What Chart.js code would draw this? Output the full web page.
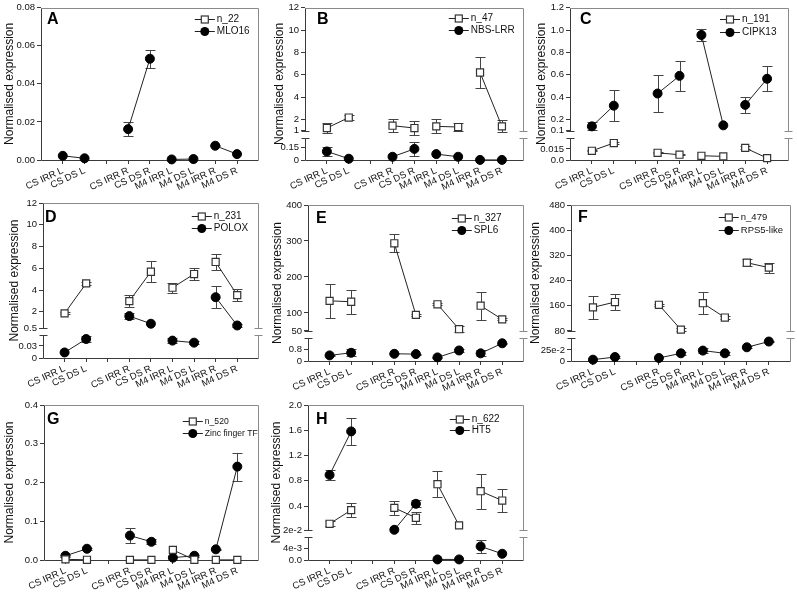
<!DOCTYPE html>
<html><head><meta charset="utf-8">
<script src="https://cdn.jsdelivr.net/npm/chart.js@4.4.0/dist/chart.umd.min.js"></script>
<style>
html,body{margin:0;padding:0;background:#fff;}
#wrap{position:relative;width:797px;height:592px;overflow:hidden;background:#fff;}
canvas{position:absolute;}
</style></head><body><div id="wrap"></div>
<script>
// ---------- data ----------
const categories = ['CS IRR L','CS DS L','CS IRR R','CS DS R','M4 IRR L','M4 DS L','M4 IRR R','M4 DS R'];
const yTitle = 'Normalised expression';

const A_n22 = [null,null,null,null,null,null,null,null];
const A_n22_err = [0,0,0,0,0,0,0,0];
const A_MLO16 = [0.0022,0.0009,0.0162,0.0532,0.0003,0.0005,0.0075,0.0031];
const A_MLO16_err = [0,0,0.0038,0.0047,0,0,0.0004,0];
const A_ticks = [0,0.02,0.04,0.06,0.08];
const A_tickLabels = ['0.00','0.02','0.04','0.06','0.08'];

const B_n47 = [1.23,2.17,1.44,1.23,1.38,1.32,6.2,1.38];
const B_n47_err = [0.44,0.24,0.6,0.65,0.62,0.35,1.36,0.57];
const B_NBS = [0.10,0.015,0.038,0.13,0.069,0.038,0.001,0.001];
const B_NBS_err = [0.05,0,0,0.085,0,0,0,0];
const B_ticks = [0,0.15,1,2,4,6,8,10,12];
const B_tickLabels = ['0','0.15','1','2','4','6','8','10','12'];

const C_n191 = [0.0124,0.0229,0.0097,0.0071,0.0057,0.0049,0.0163,0.0026];
const C_n191_err = [0.0008,0.0008,0.0008,0.0008,0,0,0.002,0];
const C_CIPK13 = [0.138,0.323,0.432,0.59,0.956,0.147,0.33,0.564];
const C_CIPK13_err = [0.036,0.14,0.162,0.135,0.05,0,0.07,0.11];
const C_ticks = [0,0.015,0.1,0.2,0.4,0.6,0.8,1.0,1.2];
const C_tickLabels = ['0.0','0.015','0.1','0.2','0.4','0.6','0.8','1.0','1.2'];

const D_n231 = [1.85,4.61,2.98,5.68,4.21,5.47,6.58,3.53];
const D_n231_err = [0.1,0.15,0.58,0.96,0.45,0.55,0.75,0.58];
const D_POLOX = [0.0137,0.047,1.6,0.9,0.043,0.038,3.34,0.74];
const D_POLOX_err = [0,0.007,0.3,0,0.007,0.003,0.99,0.18];
const D_ticks = [0,0.03,0.5,2,4,6,8,10,12];
const D_tickLabels = ['0','0.03','0.5','2','4','6','8','10','12'];

const E_n327 = [133.6,131,293.5,94.4,124,54.7,120,82];
const E_n327_err = [47.5,33,25.5,2,3,10,38.5,3];
const E_SPL6 = [0.39,0.57,0.50,0.48,0.25,0.73,0.53,1.23];
const E_SPL6_err = [0.05,0.23,0.04,0.03,0.03,0.08,0.2,0.05];
const E_ticks = [0,0.8,50,100,200,300,400];
const E_tickLabels = ['0','0.8','50','100','200','300','400'];

const F_n479 = [154.7,171.7,163,84,168,122.4,296.7,281];
const F_n479_err = [37,26,4,5,35,5,12,16];
const F_RPS5 = [0.03,0.09,0.068,0.174,0.235,0.174,0.31,0.44];
const F_RPS5_err = [0,0.02,0,0.04,0.05,0.04,0.02,0.02];
const F_ticks = [0,0.25,80,160,240,320,400,480];
const F_tickLabels = ['0','25e-2','80','160','240','320','400','480'];

const G_n520 = [0.0017,0.0005,0.0003,0.0003,0.026,0.0005,0.0003,0.0003];
const G_n520_err = [0,0,0,0,0,0,0,0];
const G_Zinc = [0.011,0.029,0.063,0.047,0.006,0.011,0.0275,0.241];
const G_Zinc_err = [0.002,0.002,0.0185,0.006,0,0.002,0.002,0.036];
const G_ticks = [0,0.1,0.2,0.3,0.4];
const G_tickLabels = ['0.0','0.1','0.2','0.3','0.4'];

const H_n622 = [0.12,0.336,0.372,0.215,0.746,0.094,0.635,0.488];
const H_n622_err = [0.04,0.105,0.108,0.097,0.208,0,0.28,0.18];
const H_HT5 = [0.893,1.582,0.025,0.436,0.0002,0.0002,0.0048,0.0022];
const H_HT5_err = [0.079,0.22,0,0.055,0,0,0.0024,0];
const H_ticks = [0,0.004,0.02,0.4,0.8,1.2,1.6,2.0];
const H_tickLabels = ['0.0','4e-3','2e-2','0.4','0.8','1.2','1.6','2.0'];

// ---------- layout / style ----------
const FONT = "'Liberation Sans', Arial, Helvetica, sans-serif";
const LOW_FRAC = 0.146, GAP_FRAC = 0.047;

const panels = [
 {id:'A', canvas:[0,0,265,195],   area:[41,5,260,160],  s1:['n_22',A_n22,A_n22_err], s2:['MLO16',A_MLO16,A_MLO16_err], max:0.08, ticks:A_ticks, labels:A_tickLabels, brk:null, legX:42, legY:[11,23], legF:10, letter:[6,5], tpad:4},
 {id:'B', canvas:[265,0,265,195], area:[305,5,526,160], s1:['n_47',B_n47,B_n47_err], s2:['NBS-LRR',B_NBS,B_NBS_err], max:12, ticks:B_ticks, labels:B_tickLabels, brk:{lowMax:0.26, upMin:1}, legX:53, legY:[10,22], legF:10, letter:[12,5], tpad:9},
 {id:'C', canvas:[530,0,267,195], area:[570,5,789,160], s1:['n_191',C_n191,C_n191_err], s2:['CIPK13',C_CIPK13,C_CIPK13_err], max:1.2, ticks:C_ticks, labels:C_tickLabels, brk:{lowMax:0.03, upMin:0.1}, legX:47, legY:[11,24], legF:10, letter:[10,5], tpad:6},
 {id:'D', canvas:[0,195,265,197], area:[43,203,261,358], s1:['n_231',D_n231,D_n231_err], s2:['POLOX',D_POLOX,D_POLOX_err], max:12, ticks:D_ticks, labels:D_tickLabels, brk:{lowMax:0.056, upMin:0.5}, legX:45, legY:[13,25], legF:10, letter:[2,7], tpad:9},
 {id:'E', canvas:[265,195,265,197], area:[308,205,528,361], s1:['n_327',E_n327,E_n327_err], s2:['SPL6',E_SPL6,E_SPL6_err], max:400, ticks:E_ticks, labels:E_tickLabels, brk:{lowMax:1.58, upMin:50}, legX:50, legY:[13,25], legF:10, letter:[8,6], tpad:7},
 {id:'F', canvas:[530,195,267,197], area:[571,205,792,361], s1:['n_479',F_n479,F_n479_err], s2:['RPS5-like',F_RPS5,F_RPS5_err], max:480, ticks:F_ticks, labels:F_tickLabels, brk:{lowMax:0.515, upMin:80}, legX:50, legY:[12,25], legF:9.5, letter:[7,5], tpad:0},
 {id:'G', canvas:[0,392,265,200], area:[44,405,261,560], s1:['n_520',G_n520,G_n520_err], s2:['Zinc finger TF',G_Zinc,G_Zinc_err], max:0.4, ticks:G_ticks, labels:G_tickLabels, brk:null, legX:54, legY:[16,28], legF:8.6, letter:[3,7], tpad:4},
 {id:'H', canvas:[265,392,265,200], area:[308,405,529,560], s1:['n_622',H_n622,H_n622_err], s2:['HT5',H_HT5,H_HT5_err], max:2.0, ticks:H_ticks, labels:H_tickLabels, brk:{lowMax:0.008, upMin:0.02}, legX:52, legY:[14,25], legF:10, letter:[8,7], tpad:6}
];

const slotLabels = ['', categories[0], categories[1], '', categories[2], categories[3], categories[4], categories[5], categories[6], categories[7], ''];
function toSlots(a){ return [null,a[0],a[1],null,a[2],a[3],a[4],a[5],a[6],a[7],null]; }

// ---------- broken value scale ----------
class BrokenScale extends Chart.LinearScale {
  buildTicks(){ return (this.chart.canvas._ticks || []).map(v => ({value:v})); }
  _seg(){
    const b = this.chart.canvas._brk, H = this.bottom - this.top;
    const lowH = H*LOW_FRAC, gapH = H*GAP_FRAC;
    return {b, lowH, gapH, lowTop:this.bottom-lowH, upBot:this.bottom-lowH-gapH};
  }
  getPixelForValue(v){
    if (v === null || v === undefined || isNaN(v)) return NaN;
    const b = this.chart.canvas._brk;
    if (!b) return super.getPixelForValue(v);
    const s = this._seg();
    if (v <= b.lowMax) return this.bottom - (v - this.min)/(b.lowMax - this.min)*s.lowH;
    if (v >= b.upMin) return s.upBot - (v - b.upMin)/(this.max - b.upMin)*(s.upBot - this.top);
    return s.lowTop - (v - b.lowMax)/(b.upMin - b.lowMax)*s.gapH;
  }
  getValueForPixel(p){
    const b = this.chart.canvas._brk;
    if (!b) return super.getValueForPixel(p);
    const s = this._seg();
    if (p >= s.lowTop) return this.min + (this.bottom - p)/s.lowH*(b.lowMax - this.min);
    if (p <= s.upBot) return b.upMin + (s.upBot - p)/(s.upBot - this.top)*(this.max - b.upMin);
    return b.lowMax + (s.lowTop - p)/s.gapH*(b.upMin - b.lowMax);
  }
}
BrokenScale.id = 'broken';
BrokenScale.defaults = Chart.LinearScale.defaults;
Chart.register(BrokenScale);

// ---------- plugins ----------
const AXIS_C = '#3a3a3a', FRAME_C = '#8a8a8a';
function seg(ctx,x1,y1,x2,y2,c){ ctx.strokeStyle=c; ctx.beginPath(); ctx.moveTo(x1,y1); ctx.lineTo(x2,y2); ctx.stroke(); }

const framePlugin = {
  id:'frame',
  beforeDatasetsDraw(chart){
    const ctx = chart.ctx, a = chart.chartArea, ys = chart.scales.y, b = chart.canvas._brk;
    ctx.save(); ctx.lineWidth = 1;
    const L = Math.round(a.left)+0.5, R = Math.round(a.right)-0.5, T = Math.round(a.top)+0.5, B = Math.round(a.bottom)+0.5;
    seg(ctx,L,T,R,T,FRAME_C);
    seg(ctx,L,B,R,B,AXIS_C);
    if (b) {
      const lowTop = Math.round(ys.getPixelForValue(b.lowMax))+0.5, upBot = Math.round(ys.getPixelForValue(b.upMin))+0.5;
      seg(ctx,L,B,L,lowTop,AXIS_C); seg(ctx,L,upBot,L,T,AXIS_C);
      seg(ctx,R,B,R,lowTop,FRAME_C); seg(ctx,R,upBot,R,T,FRAME_C);
      [lowTop,upBot].forEach(yy => { seg(ctx,L-4,yy,L+4,yy,AXIS_C); seg(ctx,R-4,yy,R+4,yy,FRAME_C); });
    } else {
      seg(ctx,L,B,L,T,AXIS_C); seg(ctx,R,B,R,T,FRAME_C);
    }
    ctx.restore();
  }
};

const errPlugin = {
  id:'errbars',
  beforeDatasetsDraw(chart){
    const ctx = chart.ctx, ys = chart.scales.y;
    ctx.save(); ctx.lineWidth = 1;
    chart.data.datasets.forEach((ds, di) => {
      const meta = chart.getDatasetMeta(di);
      ds.data.forEach((v, i) => {
        const e = ds.errors ? ds.errors[i] : 0;
        if (v === null || !e) return;
        const x = Math.round(meta.data[i].x)+0.5;
        const y1 = Math.round(ys.getPixelForValue(v + e))+0.5;
        const y2 = Math.round(ys.getPixelForValue(Math.max(v - e, ys.min)))+0.5;
        seg(ctx,x,y1,x,y2,'#444');
        seg(ctx,x-5,y1,x+5,y1,'#444');
        seg(ctx,x-5,y2,x+5,y2,'#444');
      });
    });
    ctx.restore();
  }
};

const decoPlugin = {
  id:'deco',
  afterDatasetsDraw(chart){
    const p = chart.canvas._p, a = chart.chartArea, ctx = chart.ctx;
    ctx.save();
    ctx.fillStyle = '#000'; ctx.textAlign = 'left'; ctx.textBaseline = 'alphabetic';
    ctx.font = 'bold 16px ' + FONT;
    ctx.fillText(p.id, a.left + p.letter[0], a.top + p.letter[1] + 11.5);
    ctx.font = p.legF + 'px ' + FONT; ctx.textBaseline = 'middle';
    chart.data.datasets.forEach((ds, i) => {
      const tx = a.right - p.legX, ty = Math.round(a.top + p.legY[i]) + 0.5;
      ctx.lineWidth = 1;
      seg(ctx, tx-22, ty, tx-2, ty, '#222');
      const mx = tx - 12;
      if (ds.pointStyle === 'rect') {
        ctx.fillStyle = '#fff'; ctx.strokeStyle = '#333'; ctx.lineWidth = 1.2;
        ctx.fillRect(mx-3.5, ty-3.5, 7, 7); ctx.strokeRect(mx-3.5, ty-3.5, 7, 7);
      } else {
        ctx.fillStyle = '#000'; ctx.beginPath(); ctx.arc(mx, ty, 4.5, 0, Math.PI*2); ctx.fill();
      }
      ctx.fillStyle = '#111';
      ctx.fillText(ds.label, tx, ty);
    });
    ctx.restore();
  }
};

const segColor = ctx => (ctx.p0DataIndex === 5 || ctx.p0DataIndex === 7) ? 'rgba(0,0,0,0)' : '#222';

Chart.defaults.font.family = FONT;
const wrap = document.getElementById('wrap');

panels.forEach(p => {
  const [cx, cy, cw, ch] = p.canvas;
  const [al, at, ar, ab] = p.area;
  const cv = document.createElement('canvas');
  cv.width = cw; cv.height = ch;
  cv.style.left = cx + 'px'; cv.style.top = cy + 'px';
  cv.style.width = cw + 'px'; cv.style.height = ch + 'px';
  wrap.appendChild(cv);
  cv._brk = p.brk; cv._ticks = p.ticks; cv._p = p;
  new Chart(cv, {
    type: 'line',
    data: {
      labels: slotLabels,
      datasets: [
        {label: p.s1[0], data: toSlots(p.s1[1]), errors: toSlots(p.s1[2]),
         pointStyle: 'rect', pointRadius: 5, pointBackgroundColor: '#fff', pointBorderColor: '#333', pointBorderWidth: 1.2,
         borderColor: '#222', borderWidth: 1, spanGaps: false, clip: false, segment: {borderColor: segColor}},
        {label: p.s2[0], data: toSlots(p.s2[1]), errors: toSlots(p.s2[2]),
         pointStyle: 'circle', pointRadius: 4.5, pointBackgroundColor: '#000', pointBorderColor: '#000', pointBorderWidth: 1,
         borderColor: '#222', borderWidth: 1, spanGaps: false, clip: false, segment: {borderColor: segColor}}
      ]
    },
    options: {
      responsive: false, animation: false, devicePixelRatio: 1, events: [],
      layout: {padding: {left: 0, top: at - cy, right: cx + cw - ar, bottom: 0}},
      plugins: {legend: {display: false}, tooltip: {enabled: false}},
      scales: {
        x: {type: 'category', offset: false,
            grid: {drawOnChartArea: false, tickLength: 4, color: AXIS_C,
                   tickColor: c => (c.index === 0 || c.index === 10) ? 'rgba(0,0,0,0)' : AXIS_C},
            border: {display: false},
            ticks: {autoSkip: false, minRotation: 25, maxRotation: 25, padding: 1, font: {size: 9.5}, color: '#111'},
            afterFit: s => { s.height = cy + ch - ab; }},
        y: {type: 'broken', min: 0, max: p.max,
            grid: {drawOnChartArea: false, tickLength: 4, color: AXIS_C},
            border: {display: false},
            ticks: {autoSkip: false, padding: 2, font: {size: 9.5}, color: '#111', callback: (v, i) => p.labels[i]},
            title: {display: true, text: yTitle, font: {size: 12, lineHeight: 1}, color: '#111', padding: {top: p.tpad, bottom: 0}},
            afterFit: s => { s.width = al - cx; }}
      }
    },
    plugins: [framePlugin, errPlugin, decoPlugin]
  });
});
</script></body></html>
